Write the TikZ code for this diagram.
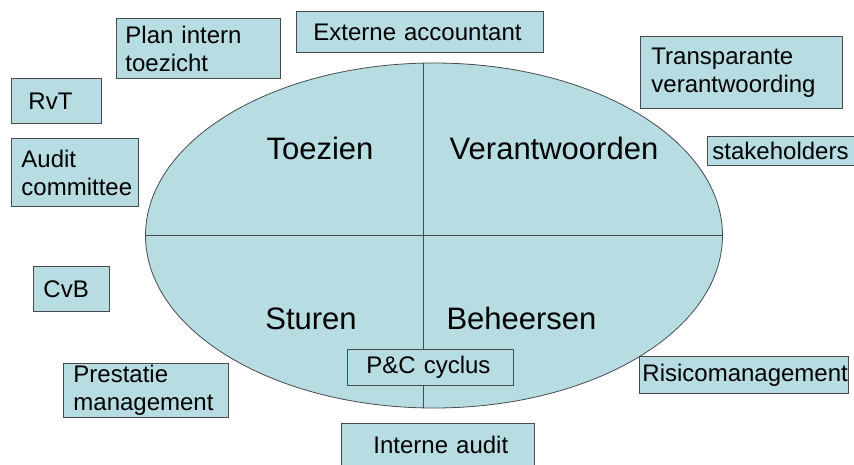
\documentclass[tikz,border=0pt]{standalone}
\usepackage{fontspec}
\setmainfont{Liberation Sans}
\usetikzlibrary{shapes.geometric}
\definecolor{aqua}{RGB}{183,221,226}
\definecolor{edge}{RGB}{70,75,78}
\tikzset{
  box/.style={draw=edge, line width=0.9pt, fill=aqua, rectangle, anchor=north west,
    align=left, inner ysep=0pt, font=\fontsize{24}{28}\selectfont},
  big/.style={font=\fontsize{31}{36}\selectfont, anchor=base, inner sep=0pt},
  divider/.style={draw=edge, line width=0.9pt}
}
\begin{document}
\begin{tikzpicture}[x=1pt,y=-1pt]
\useasboundingbox (0,0) rectangle (854,464);
\node[ellipse, draw=edge, line width=0.8pt, fill=aqua, minimum width=577pt, minimum height=345pt, inner sep=0pt] (E) at (434,235.5) {};
\coordinate (vt) at (423.5,63.1);
\coordinate (vb) at (423.5,407.9);
\draw[divider] (E.west) -- (E.east);
\draw[divider] (vt) -- (vb);
\node[big] (toezien) at (320,159) {Toezien};
\node[big] (verant) at (554,159) {Verantwoorden};
\node[big] (sturen) at (311,329) {Sturen};
\node[big] (beheer) at (521.5,329) {Beheersen};
% boxes
\node[box, inner xsep=9pt, text width=146pt, minimum height=60pt] (plan) at (116,18) {Plan intern\\toezicht};
\node[box, inner xsep=17pt, text width=213pt, minimum height=41pt] (ext) at (296,11) {Externe accountant};
\node[box, inner xsep=11pt, text width=180pt, minimum height=72pt] (transp) at (640,36) {Transparante\\verantwoording};
\node[box, inner xsep=5pt, text width=143pt, minimum height=29pt] (stake) at (707,136) {stakeholders};
\node[box, inner xsep=17pt, text width=56pt, minimum height=45pt] (rvt) at (11,78) {RvT};
\node[box, inner xsep=10pt, text width=107pt, minimum height=68pt] (audit) at (11,138) {Audit\\committee};
\node[box, inner xsep=10pt, text width=56pt, minimum height=45pt] (cvb) at (33,266) {CvB};
\node[box, inner xsep=10pt, text width=145pt, minimum height=54pt] (prest) at (63,363) {Prestatie\\management};
\node[box, inner xsep=19pt, text width=128pt, minimum height=36pt] (pc) at (347,349) {P\&C cyclus};
\node[box, inner xsep=3pt, text width=203pt, minimum height=37pt] (risico) at (639,356) {Risicomanagement};
\node[box, inner xsep=32pt, text width=129pt, minimum height=50pt] (intern) at (341,423) {\raisebox{7pt}{Interne audit}};
\end{tikzpicture}
\end{document}
